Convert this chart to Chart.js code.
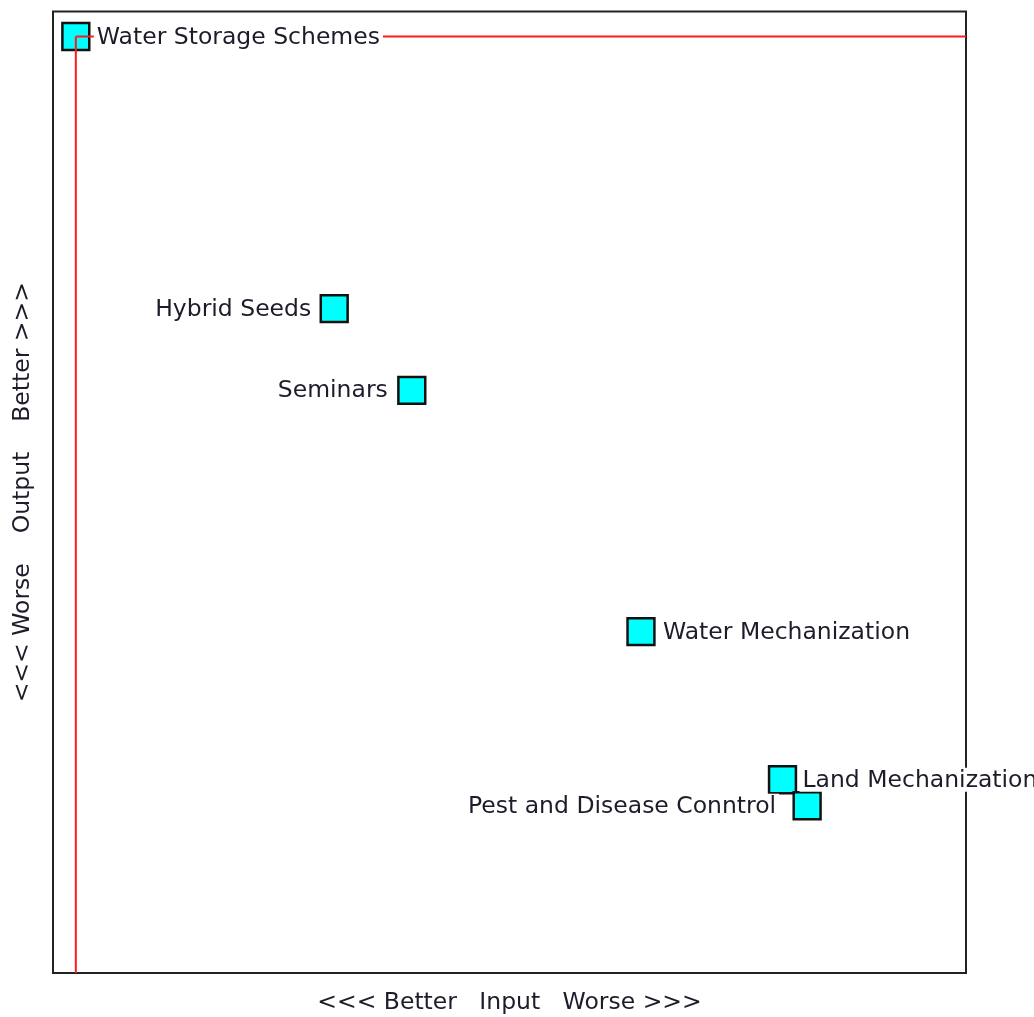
<!DOCTYPE html>
<html>
<head>
<meta charset="utf-8">
<script src="https://cdn.jsdelivr.net/npm/chart.js@4/dist/chart.umd.min.js"></script>
<style>
html,body{margin:0;padding:0;background:#fff;overflow:hidden;}
#wrap{width:1034px;height:1027px;margin-top:-10px;}
</style>
</head>
<body>
<div id="wrap"><canvas id="c" width="1034" height="1027"></canvas></div>
<script>
// ---- data ----
const names = ["Water Storage Schemes","Hybrid Seeds","Seminars","Water Mechanization","Land Mechanization","Pest and Disease Conntrol"];
const inputValues = [2.5, 30.8, 39.3, 64.4, 79.9, 82.6];
const outputValues = [97.4, 69.1, 60.6, 35.5, 20.1, 17.4];
const xTitle = "<<< Better   Input   Worse >>>";
const yTitle = "<<< Worse    Output    Better >>>";
const axisMin = 0, axisMax = 100;

const FONT = "'DejaVu Sans', sans-serif";
const FS = 23.5;
const points = names.map((n,i)=>({x: inputValues[i], y: outputValues[i]}));
// frontier reference point = best input / best output
const bestX = Math.min(...inputValues);
const bestY = Math.max(...outputValues);

const labelSide = ["right","left","left","right","right","left"];
const labelGap = [7, 9, 10, 8, 6, 17];

const framePlugin = {
  id: 'frame',
  beforeDatasetsDraw(chart){
    const {ctx, chartArea:a} = chart;
    ctx.save();
    ctx.strokeStyle = '#222';
    ctx.lineWidth = 2;
    ctx.strokeRect(a.left, a.top, a.right-a.left, a.bottom-a.top);
    ctx.restore();
  }
};
const labelPlugin = {
  id: 'ptlabels',
  afterDatasetsDraw(chart){
    const {ctx} = chart;
    const meta = chart.getDatasetMeta(2);
    ctx.save();
    ctx.font = FS + "px " + FONT;
    ctx.textBaseline = 'middle';
    meta.data.forEach((el,i)=>{
      const half = 14;
      const w = ctx.measureText(names[i]).width;
      let tx;
      if (labelSide[i]==='right') tx = el.x + half + labelGap[i];
      else tx = el.x - half - labelGap[i] - w;
      ctx.fillStyle = '#fff';
      ctx.fillRect(tx-3, el.y-12, w+6, 24);
      ctx.fillStyle = '#1c1c2a';
      ctx.textAlign = 'left';
      ctx.fillText(names[i], tx, el.y+1);
    });
    ctx.restore();
  }
};

new Chart(document.getElementById('c'), {
  type: 'scatter',
  data: {
    datasets: [
      {
        type: 'line',
        data: [{x: bestX, y: bestY}, {x: bestX, y: axisMin}],
        borderColor: '#ff1a1a', borderWidth: 2, pointRadius: 0, fill: false
      },
      {
        type: 'line',
        data: [{x: bestX, y: bestY}, {x: axisMax, y: bestY}],
        borderColor: '#ff1a1a', borderWidth: 2, pointRadius: 0, fill: false
      },
      {
        data: points,
        pointStyle: 'rect',
        pointRadius: 19,
        pointHoverRadius: 19,
        backgroundColor: '#00ffff',
        borderColor: '#111',
        borderWidth: 2.5,
        clip: false
      }
    ]
  },
  options: {
    responsive: false,
    animation: false,
    events: [],
    layout: { padding: { top: 2, right: 68, left: 0, bottom: 0 } },
    plugins: { legend: {display:false}, tooltip: {enabled:false} },
    scales: {
      x: {
        type: 'linear', min: axisMin, max: axisMax,
        ticks: {display:false}, grid: {display:false}, border: {display:false},
        title: { display:true, text: xTitle, color:'#1c1c2a', font:{family:FONT, size:FS}, padding:{top:0,bottom:0} },
        afterFit(s){ s.height = 44; }
      },
      y: {
        type: 'linear', min: axisMin, max: axisMax,
        ticks: {display:false}, grid: {display:false}, border: {display:false},
        title: { display:true, text: yTitle, color:'#1c1c2a', font:{family:FONT, size:FS}, padding:{top:9,bottom:0} },
        afterFit(s){ s.width = 53; }
      }
    }
  },
  plugins: [framePlugin, labelPlugin]
});
</script>
</body>
</html>
